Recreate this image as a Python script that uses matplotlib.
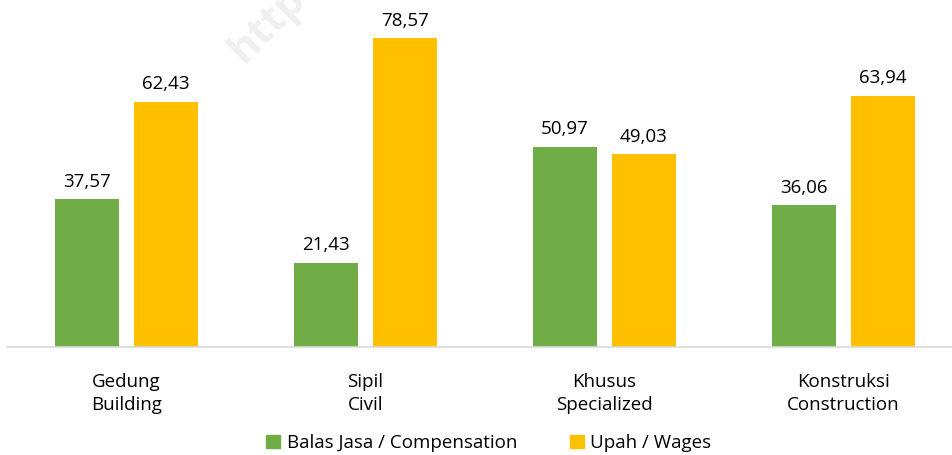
import matplotlib
matplotlib.use("Agg")
import matplotlib.pyplot as plt
import numpy as np
from matplotlib.patches import Patch

categories = ["Gedung\nBuilding", "Sipil\nCivil", "Khusus\nSpecialized", "Konstruksi\nConstruction"]
compensation = [37.57, 21.43, 50.97, 36.06]
wages = [62.43, 78.57, 49.03, 63.94]
series_names = ["Balas Jasa / Compensation", "Upah / Wages"]
colors = ["#70AD47", "#FFC000"]

plt.rcParams['font.family'] = ['Open Sans', 'DejaVu Sans']

W, H = 952, 455
fig = plt.figure(figsize=(W/100, H/100), dpi=100)
ax = fig.add_axes([7/W, 108/H, (963-7)/W, (H-108)/H])

x = np.arange(len(categories))
bw = 0.265
off = 0.165
b1 = ax.bar(x - off, compensation, bw, color=colors[0])
b2 = ax.bar(x + off, wages, bw, color=colors[1])

def fmt(v):
    return f"{v:.2f}".replace(".", ",")

for bars, vals in ((b1, compensation), (b2, wages)):
    for b, v in zip(bars, vals):
        ax.annotate(fmt(v), (b.get_x() + b.get_width()/2, v), xytext=(0, 6),
                    textcoords="offset points", ha="center", va="bottom",
                    fontsize=13.5, color="#000000")

ax.set_xlim(-0.5, 3.5)
ax.set_ylim(0, 347/3.93)
ax.set_xticks(x)
ax.set_xticklabels(categories, fontsize=13.5, linespacing=1.35)
ax.tick_params(axis="x", length=0, pad=19)
ax.set_yticks([])
for s in ["top", "right", "left"]:
    ax.spines[s].set_visible(False)
ax.spines["bottom"].set_color("#d9d9d9")
ax.spines["bottom"].set_linewidth(1.2)
ax.set_facecolor("none")

fig.text(268/W, 1 - 25/H, "http", rotation=45, fontsize=30, fontweight="bold",
         color="#f0f0f0", ha="center", va="center", zorder=0)

handles = [Patch(color=c) for c in colors]
fig.legend(handles, series_names, loc="center", bbox_to_anchor=(489/W, 1 - 443/H),
           ncol=2, frameon=False, fontsize=13.5, handlelength=0.75, handleheight=0.75,
           handletextpad=0.35, columnspacing=2.8)

fig.savefig("out.png", dpi=100)
